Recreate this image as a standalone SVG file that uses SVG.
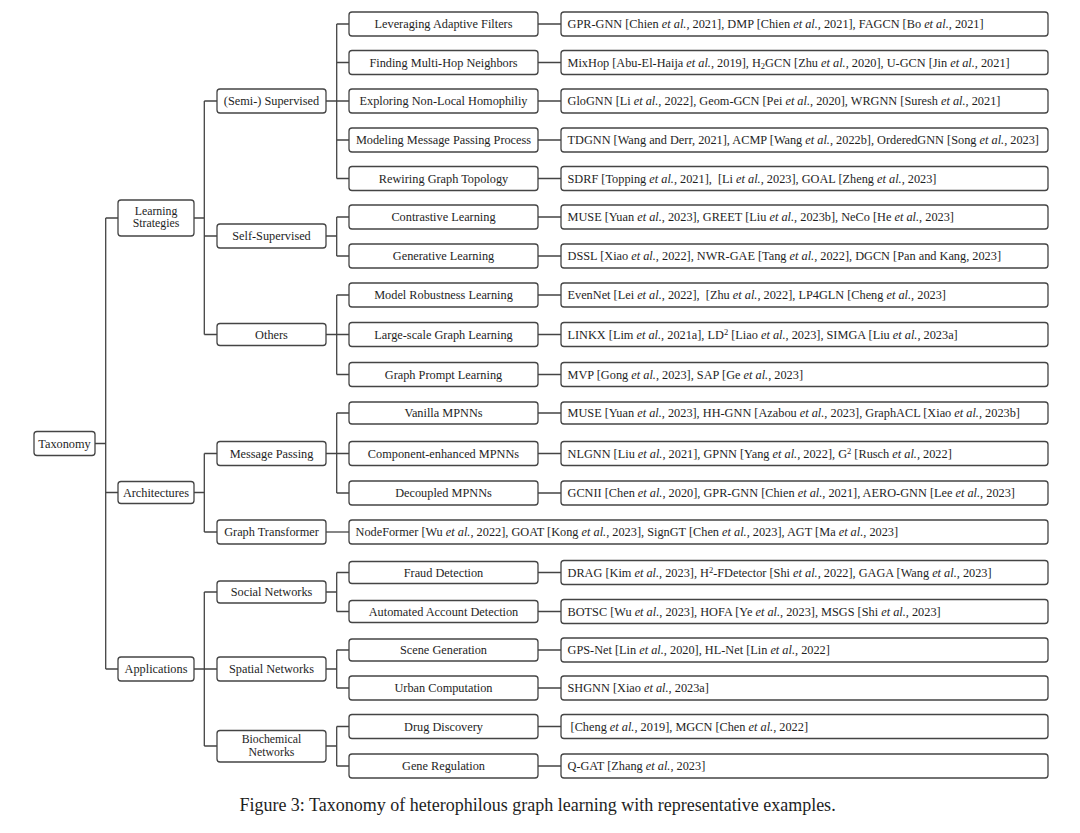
<svg xmlns="http://www.w3.org/2000/svg" width="1080" height="833" viewBox="0 0 1080 833">
<style>
text{font-family:"Liberation Serif","Times New Roman",serif;fill:#1e1e1e;font-size:12.3px}
.c{text-anchor:middle}
.i{font-style:italic}
.b{fill:#fff;stroke:#444;stroke-width:1.3}
.ln{fill:none;stroke:#444;stroke-width:1.3}
.cap{font-size:18px;text-anchor:middle}
.s{font-size:8.5px}
.t{font-size:11.8px}
</style>
<rect width="1080" height="833" fill="#fff"/>
<g id="connectors" class="ln">
<path d="M95,443.5H105.7M105.7,218V669M105.7,218H118M105.7,492.5H118M105.7,669H118"/>
<path d="M194,218H204.3M204.3,101V334.5M204.3,101H217M204.3,236H217M204.3,334.5H217"/>
<path d="M194,492.5H204.3M204.3,453.5V532M204.3,453.5H217M204.3,532H217"/>
<path d="M194,669H204.3M204.3,592V746M204.3,592H217M204.3,669H217M204.3,746H217"/>
<path d="M326,101H336.7M336.7,24V178.5M336.7,24H349M336.7,62.5H349M336.7,101H349M336.7,140H349M336.7,178.5H349"/>
<path d="M326,236H336.7M336.7,217V256M336.7,217H349M336.7,256H349"/>
<path d="M326,334.5H336.7M336.7,295V374.5M336.7,295H349M336.7,334.5H349M336.7,374.5H349"/>
<path d="M326,453.5H336.7M336.7,413V493M336.7,413H349M336.7,453.5H349M336.7,493H349"/>
<path d="M326,532H349"/>
<path d="M326,592H336.7M336.7,572.5V611.5M336.7,572.5H349M336.7,611.5H349"/>
<path d="M326,669H336.7M336.7,650V688M336.7,650H349M336.7,688H349"/>
<path d="M326,746H336.7M336.7,726.5V766M336.7,726.5H349M336.7,766H349"/>
<path d="M538,24H561M538,62.5H561M538,101H561M538,140H561M538,178.5H561M538,217H561M538,256H561M538,295H561M538,334.5H561M538,374.5H561M538,413H561M538,453.5H561M538,493H561M538,572.5H561M538,611.5H561M538,650H561M538,688H561M538,726.5H561M538,766H561"/>
</g>
<g id="taxonomy"><rect class="b" x="34" y="431.5" width="61" height="24" rx="3"/><text class="c" x="64.5" y="447.5">Taxonomy</text></g>
<g id="learning-strategies"><rect class="b" x="118" y="200" width="76" height="36" rx="3"/><text class="c t" x="156" y="214.5">Learning</text><text class="c t" x="156" y="227">Strategies</text></g>
<g id="architectures"><rect class="b" x="118" y="481.5" width="76" height="22" rx="3"/><text class="c" x="156" y="496.5">Architectures</text></g>
<g id="applications"><rect class="b" x="118" y="657" width="76" height="24" rx="3"/><text class="c" x="156" y="673">Applications</text></g>
<g id="semi-supervised"><rect class="b" x="217" y="89" width="109" height="24" rx="3"/><text class="c" x="271.5" y="105">(Semi-) Supervised</text></g>
<g id="self-supervised"><rect class="b" x="217" y="224" width="109" height="24" rx="3"/><text class="c" x="271.5" y="240">Self-Supervised</text></g>
<g id="others"><rect class="b" x="217" y="323.5" width="109" height="22" rx="3"/><text class="c" x="271.5" y="338.5">Others</text></g>
<g id="message-passing"><rect class="b" x="217" y="441.5" width="109" height="24" rx="3"/><text class="c" x="271.5" y="457.5">Message Passing</text></g>
<g id="graph-transformer"><rect class="b" x="217" y="520" width="109" height="24" rx="3"/><text class="c" x="271.5" y="536">Graph Transformer</text></g>
<g id="social-networks"><rect class="b" x="217" y="581" width="109" height="22" rx="3"/><text class="c" x="271.5" y="596">Social Networks</text></g>
<g id="spatial-networks"><rect class="b" x="217" y="657" width="109" height="24" rx="3"/><text class="c" x="271.5" y="673">Spatial Networks</text></g>
<g id="biochemical-networks"><rect class="b" x="217" y="730.5" width="109" height="31.5" rx="3"/><text class="c t" x="271.5" y="743">Biochemical</text><text class="c t" x="271.5" y="755.5">Networks</text></g>
<g id="m1"><rect class="b" x="349" y="12" width="189" height="24" rx="3"/><text class="c" x="443.5" y="28">Leveraging Adaptive Filters</text></g>
<g id="m2"><rect class="b" x="349" y="50.5" width="189" height="24" rx="3"/><text class="c" x="443.5" y="66.5">Finding Multi-Hop Neighbors</text></g>
<g id="m3"><rect class="b" x="349" y="89" width="189" height="24" rx="3"/><text class="c" x="443.5" y="105">Exploring Non-Local Homophiliy</text></g>
<g id="m4"><rect class="b" x="349" y="128" width="189" height="24" rx="3"/><text class="c" x="443.5" y="144">Modeling Message Passing Process</text></g>
<g id="m5"><rect class="b" x="349" y="166.5" width="189" height="24" rx="3"/><text class="c" x="443.5" y="182.5">Rewiring Graph Topology</text></g>
<g id="m6"><rect class="b" x="349" y="205" width="189" height="24" rx="3"/><text class="c" x="443.5" y="221">Contrastive Learning</text></g>
<g id="m7"><rect class="b" x="349" y="244" width="189" height="24" rx="3"/><text class="c" x="443.5" y="260">Generative Learning</text></g>
<g id="m8"><rect class="b" x="349" y="283" width="189" height="24" rx="3"/><text class="c" x="443.5" y="299">Model Robustness Learning</text></g>
<g id="m9"><rect class="b" x="349" y="322.5" width="189" height="24" rx="3"/><text class="c" x="443.5" y="338.5">Large-scale Graph Learning</text></g>
<g id="m10"><rect class="b" x="349" y="362.5" width="189" height="24" rx="3"/><text class="c" x="443.5" y="378.5">Graph Prompt Learning</text></g>
<g id="m11"><rect class="b" x="349" y="402" width="189" height="22" rx="3"/><text class="c" x="443.5" y="417">Vanilla MPNNs</text></g>
<g id="m12"><rect class="b" x="349" y="441.5" width="189" height="24" rx="3"/><text class="c" x="443.5" y="457.5">Component-enhanced MPNNs</text></g>
<g id="m13"><rect class="b" x="349" y="481" width="189" height="24" rx="3"/><text class="c" x="443.5" y="497">Decoupled MPNNs</text></g>
<g id="m15"><rect class="b" x="349" y="561.5" width="189" height="22" rx="3"/><text class="c" x="443.5" y="576.5">Fraud Detection</text></g>
<g id="m16"><rect class="b" x="349" y="600.5" width="189" height="22" rx="3"/><text class="c" x="443.5" y="615.5">Automated Account Detection</text></g>
<g id="m17"><rect class="b" x="349" y="639" width="189" height="22" rx="3"/><text class="c" x="443.5" y="654">Scene Generation</text></g>
<g id="m18"><rect class="b" x="349" y="676" width="189" height="24" rx="3"/><text class="c" x="443.5" y="692">Urban Computation</text></g>
<g id="m19"><rect class="b" x="349" y="714.5" width="189" height="24" rx="3"/><text class="c" x="443.5" y="730.5">Drug Discovery</text></g>
<g id="m20"><rect class="b" x="349" y="754" width="189" height="24" rx="3"/><text class="c" x="443.5" y="770">Gene Regulation</text></g>
<g id="l1"><rect class="b" x="561" y="12" width="487" height="24" rx="3"/><text x="567.5" y="28" xml:space="preserve">GPR-GNN [Chien <tspan class="i">et al.</tspan>, 2021], DMP [Chien <tspan class="i">et al.</tspan>, 2021], FAGCN [Bo <tspan class="i">et al.</tspan>, 2021]</text></g>
<g id="l2"><rect class="b" x="561" y="50.5" width="487" height="24" rx="3"/><text x="567.5" y="66.5" xml:space="preserve">MixHop [Abu-El-Haija <tspan class="i">et al.</tspan>, 2019], H<tspan class="s" dy="2.5">2</tspan><tspan dy="-2.5">GCN [Zhu </tspan><tspan class="i">et al.</tspan>, 2020], U-GCN [Jin <tspan class="i">et al.</tspan>, 2021]</text></g>
<g id="l3"><rect class="b" x="561" y="89" width="487" height="24" rx="3"/><text x="567.5" y="105" xml:space="preserve">GloGNN [Li <tspan class="i">et al.</tspan>, 2022], Geom-GCN [Pei <tspan class="i">et al.</tspan>, 2020], WRGNN [Suresh <tspan class="i">et al.</tspan>, 2021]</text></g>
<g id="l4"><rect class="b" x="561" y="128" width="487" height="24" rx="3"/><text x="567.5" y="144" xml:space="preserve">TDGNN [Wang and Derr, 2021], ACMP [Wang <tspan class="i">et al.</tspan>, 2022b], OrderedGNN [Song <tspan class="i">et al.</tspan>, 2023]</text></g>
<g id="l5"><rect class="b" x="561" y="166.5" width="487" height="24" rx="3"/><text x="567.5" y="182.5" xml:space="preserve">SDRF [Topping <tspan class="i">et al.</tspan>, 2021],  [Li <tspan class="i">et al.</tspan>, 2023], GOAL [Zheng <tspan class="i">et al.</tspan>, 2023]</text></g>
<g id="l6"><rect class="b" x="561" y="205" width="487" height="24" rx="3"/><text x="567.5" y="221" xml:space="preserve">MUSE [Yuan <tspan class="i">et al.</tspan>, 2023], GREET [Liu <tspan class="i">et al.</tspan>, 2023b], NeCo [He <tspan class="i">et al.</tspan>, 2023]</text></g>
<g id="l7"><rect class="b" x="561" y="244" width="487" height="24" rx="3"/><text x="567.5" y="260" xml:space="preserve">DSSL [Xiao <tspan class="i">et al.</tspan>, 2022], NWR-GAE [Tang <tspan class="i">et al.</tspan>, 2022], DGCN [Pan and Kang, 2023]</text></g>
<g id="l8"><rect class="b" x="561" y="283" width="487" height="24" rx="3"/><text x="567.5" y="299" xml:space="preserve">EvenNet [Lei <tspan class="i">et al.</tspan>, 2022],  [Zhu <tspan class="i">et al.</tspan>, 2022], LP4GLN [Cheng <tspan class="i">et al.</tspan>, 2023]</text></g>
<g id="l9"><rect class="b" x="561" y="322.5" width="487" height="24" rx="3"/><text x="567.5" y="338.5" xml:space="preserve">LINKX [Lim <tspan class="i">et al.</tspan>, 2021a], LD<tspan class="s" dy="-4">2</tspan><tspan dy="4"> [Liao </tspan><tspan class="i">et al.</tspan>, 2023], SIMGA [Liu <tspan class="i">et al.</tspan>, 2023a]</text></g>
<g id="l10"><rect class="b" x="561" y="362.5" width="487" height="24" rx="3"/><text x="567.5" y="378.5" xml:space="preserve">MVP [Gong <tspan class="i">et al.</tspan>, 2023], SAP [Ge <tspan class="i">et al.</tspan>, 2023]</text></g>
<g id="l11"><rect class="b" x="561" y="402" width="487" height="22" rx="3"/><text x="567.5" y="417" xml:space="preserve">MUSE [Yuan <tspan class="i">et al.</tspan>, 2023], HH-GNN [Azabou <tspan class="i">et al.</tspan>, 2023], GraphACL [Xiao <tspan class="i">et al.</tspan>, 2023b]</text></g>
<g id="l12"><rect class="b" x="561" y="441.5" width="487" height="24" rx="3"/><text x="567.5" y="457.5" xml:space="preserve">NLGNN [Liu <tspan class="i">et al.</tspan>, 2021], GPNN [Yang <tspan class="i">et al.</tspan>, 2022], G<tspan class="s" dy="-4">2</tspan><tspan dy="4"> [Rusch </tspan><tspan class="i">et al.</tspan>, 2022]</text></g>
<g id="l13"><rect class="b" x="561" y="481" width="487" height="24" rx="3"/><text x="567.5" y="497" xml:space="preserve">GCNII [Chen <tspan class="i">et al.</tspan>, 2020], GPR-GNN [Chien <tspan class="i">et al.</tspan>, 2021], AERO-GNN [Lee <tspan class="i">et al.</tspan>, 2023]</text></g>
<g id="l14"><rect class="b" x="349" y="520" width="699" height="24" rx="3"/><text x="355.5" y="536" xml:space="preserve">NodeFormer [Wu <tspan class="i">et al.</tspan>, 2022], GOAT [Kong <tspan class="i">et al.</tspan>, 2023], SignGT [Chen <tspan class="i">et al.</tspan>, 2023], AGT [Ma <tspan class="i">et al.</tspan>, 2023]</text></g>
<g id="l15"><rect class="b" x="561" y="560.5" width="487" height="24" rx="3"/><text x="567.5" y="576.5" xml:space="preserve">DRAG [Kim <tspan class="i">et al.</tspan>, 2023], H<tspan class="s" dy="-4">2</tspan><tspan dy="4">-FDetector [Shi </tspan><tspan class="i">et al.</tspan>, 2022], GAGA [Wang <tspan class="i">et al.</tspan>, 2023]</text></g>
<g id="l16"><rect class="b" x="561" y="599.5" width="487" height="24" rx="3"/><text x="567.5" y="615.5" xml:space="preserve">BOTSC [Wu <tspan class="i">et al.</tspan>, 2023], HOFA [Ye <tspan class="i">et al.</tspan>, 2023], MSGS [Shi <tspan class="i">et al.</tspan>, 2023]</text></g>
<g id="l17"><rect class="b" x="561" y="638" width="487" height="24" rx="3"/><text x="567.5" y="654" xml:space="preserve">GPS-Net [Lin <tspan class="i">et al.</tspan>, 2020], HL-Net [Lin <tspan class="i">et al.</tspan>, 2022]</text></g>
<g id="l18"><rect class="b" x="561" y="676" width="487" height="24" rx="3"/><text x="567.5" y="692" xml:space="preserve">SHGNN [Xiao <tspan class="i">et al.</tspan>, 2023a]</text></g>
<g id="l19"><rect class="b" x="561" y="714.5" width="487" height="24" rx="3"/><text x="567.5" y="730.5" xml:space="preserve"> [Cheng <tspan class="i">et al.</tspan>, 2019], MGCN [Chen <tspan class="i">et al.</tspan>, 2022]</text></g>
<g id="l20"><rect class="b" x="561" y="754" width="487" height="24" rx="3"/><text x="567.5" y="770" xml:space="preserve">Q-GAT [Zhang <tspan class="i">et al.</tspan>, 2023]</text></g>
<text class="cap" x="537.5" y="811">Figure 3: Taxonomy of heterophilous graph learning with representative examples.</text>
</svg>
